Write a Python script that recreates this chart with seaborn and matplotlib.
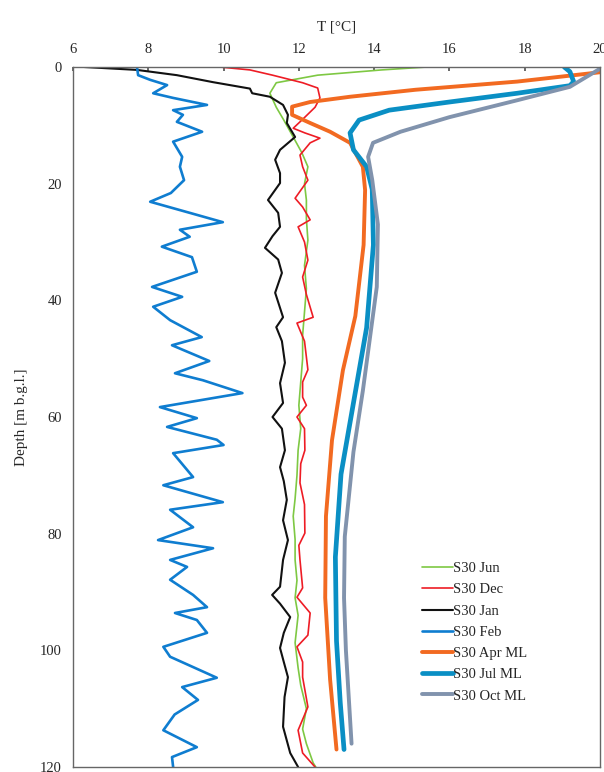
import pandas as pd
import matplotlib.pyplot as plt
import seaborn as sns

# depth [m b.g.l.] and temperature [°C]
jun_depth = [0, 0.5, 1.4, 2.7, 4.5, 6.9, 9.1, 12, 14.7, 17.1, 20, 22.8, 26, 29.7, 34, 38, 42, 46, 50,
             54, 58, 62, 65.7, 70, 74, 77, 81, 84.5, 88, 91, 94, 98.7, 103, 106, 110, 113.5, 116, 119.3, 120]
jun_temp = [15.4, 14.2, 12.5, 11.4, 11.23, 11.4, 11.6, 11.85, 12.08, 12.24, 12.15, 12.2, 12.2, 12.24, 12.15,
            12.2, 12.15, 12.1, 12.1, 12.05, 12.0, 12.05, 11.98, 11.95, 11.9, 11.85, 11.9, 11.9, 11.95, 11.9,
            11.98, 11.9, 11.98, 12.05, 12.2, 12.1, 12.2, 12.38, 12.45]

dec_depth = [0, 0.5, 1.4, 2.7, 3.6, 5.3, 6.9, 9.1, 10.5, 11.3, 12.2, 13, 15.1, 17.1, 19.4, 22.5, 24, 26.2,
             27.4, 30, 33.1, 36, 39, 42.9, 43.9, 47, 51.9, 54, 56.6, 58, 60, 62, 65.7, 68, 71.3, 75, 79.9,
             82, 84.5, 89.3, 90.9, 93.6, 97.4, 99.4, 102, 104.6, 109.7, 113.7, 117.6, 120]
dec_temp = [9.9, 10.7, 11.3, 12.1, 12.5, 12.56, 12.43, 12.08, 11.85, 12.16, 12.56, 12.3, 12.03, 12.1, 12.24,
            11.9, 12.1, 12.3, 11.98, 12.15, 12.24, 12.1, 12.2, 12.38, 11.95, 12.15, 12.24, 12.1, 12.1, 12.2,
            11.95, 12.15, 12.16, 12.05, 12.03, 12.15, 12.16, 12.0, 12.03, 12.1, 11.95, 12.3, 12.24, 11.95,
            12.1, 12.1, 12.24, 11.98, 12.1, 12.43]

jan_depth = [0, 0.5, 1.4, 2.6, 3.7, 4.5, 5.1, 6.5, 8.2, 9.6, 12, 14.2, 15.9, 18.2, 19.9, 22.8, 25, 27.4,
             29, 31, 33, 35.3, 38.7, 42.9, 44.6, 47, 50.7, 54.2, 57.6, 60, 62, 65.7, 68.6, 71, 74.2, 77.7,
             81.1, 84.5, 89.1, 90.5, 92, 94.3, 97, 99.6, 102, 104.6, 108, 113.1, 117.6, 120]
jan_temp = [6.3, 7.7, 8.76, 9.72, 10.7, 10.76, 11.23, 11.58, 11.71, 11.68, 11.9, 11.5, 11.37, 11.5, 11.5,
            11.18, 11.45, 11.5, 11.3, 11.1, 11.45, 11.55, 11.37, 11.58, 11.4, 11.55, 11.63, 11.5, 11.58, 11.3,
            11.55, 11.63, 11.5, 11.6, 11.68, 11.58, 11.71, 11.58, 11.5, 11.29, 11.5, 11.77, 11.6, 11.5, 11.6,
            11.71, 11.62, 11.58, 11.77, 11.98]

feb_depth = [0, 1.4, 2.2, 3.1, 4.5, 5.3, 6.5, 7.4, 8.2, 9.4, 11.1, 12.8, 15.4, 17.1, 19.4, 21.6, 23.1, 25,
             26.6, 27.9, 29.1, 30.8, 32.6, 35.1, 37.7, 39.4, 41.1, 43.4, 46.3, 47.7, 50.4, 52.5, 53.7, 55.9,
             58.3, 60.2, 61.7, 63.9, 64.8, 66.2, 70.3, 71.7, 74.6, 75.9, 78.9, 81.1, 82.5, 84.5, 85.7, 87.9,
             90.5, 92.6, 93.6, 94.8, 97, 99.4, 101.1, 104.7, 106.3, 108.5, 111, 113.7, 116.6, 118.3, 120]
feb_temp = [7.7, 7.73, 8.05, 8.5, 8.13, 8.66, 9.56, 8.66, 8.92, 8.76, 9.43, 8.66, 8.9, 8.84, 8.95, 8.6, 8.05,
            9.1, 9.98, 8.84, 9.1, 8.36, 9.16, 9.29, 8.1, 8.9, 8.13, 8.58, 9.42, 8.63, 9.62, 8.71, 9.45, 10.5,
            8.31, 9.29, 8.5, 9.82, 10.0, 8.66, 9.19, 8.4, 9.98, 8.58, 9.19, 8.26, 9.72, 8.58, 9.03, 8.58,
            9.19, 9.56, 8.71, 9.29, 9.56, 8.4, 8.58, 9.82, 8.9, 9.32, 8.7, 8.4, 9.29, 8.63, 8.66]

apr_depth = [0.9, 2.5, 3.9, 5.1, 6.0, 6.8, 8.2, 9.6, 11.1, 13, 17.1, 21.1, 30.5, 42.7, 52, 64, 77, 91, 105, 117]
apr_temp = [20.0, 17.8, 15.1, 13.36, 12.3, 11.82, 11.82, 12.3, 12.83, 13.36, 13.7, 13.76, 13.72, 13.5,
            13.17, 12.88, 12.72, 12.7, 12.83, 13.0]

jul_depth = [0, 0.8, 2.5, 3.2, 4.5, 6.0, 7.4, 9.1, 11.3, 14.2, 17.1, 21, 30.5, 44.7, 57.6, 69.8, 84, 98.4, 109, 117]
jul_temp = [19.05, 19.2, 19.3, 19.2, 17.8, 16.0, 14.4, 13.6, 13.36, 13.45, 13.8, 13.95, 13.98, 13.8, 13.45,
            13.12, 12.97, 13.0, 13.1, 13.2]

oct_depth = [0.3, 3.4, 5.7, 8.6, 11.1, 13, 15.4, 19.4, 27, 37.7, 55.5, 66, 80.5, 91, 100, 116]
oct_temp = [20.0, 19.2, 17.8, 16.0, 14.7, 13.97, 13.84, 13.95, 14.1, 14.07, 13.7, 13.45, 13.22, 13.2, 13.25, 13.4]

labels = ["S30 Jun", "S30 Dec", "S30 Jan", "S30 Feb", "S30 Apr ML", "S30 Jul ML", "S30 Oct ML"]
depths = [jun_depth, dec_depth, jan_depth, feb_depth, apr_depth, jul_depth, oct_depth]
temps = [jun_temp, dec_temp, jan_temp, feb_temp, apr_temp, jul_temp, oct_temp]
colors = ["#7ec843", "#ee1c25", "#111111", "#0f7dd0", "#f26a21", "#0a8fc4", "#8193ad"]
widths = [1.2, 1.2, 1.5, 1.9, 2.8, 3.4, 2.8]

sns.set_theme(style="white")
plt.rcParams['font.family'] = ['Liberation Serif', 'DejaVu Serif']

fig = plt.figure(figsize=(6.04, 7.72), dpi=100)
ax = fig.add_axes([73/604, 1 - 767/772, (600 - 73)/604, (767 - 67)/772])

for lab, d, t, c, w in zip(labels, depths, temps, colors, widths):
    df = pd.DataFrame({'T': t, 'depth': d})
    sns.lineplot(data=df, x='T', y='depth', sort=False, estimator=None,
                 color=c, linewidth=w, label=lab, ax=ax,
                 solid_joinstyle='round', solid_capstyle='round')

ax.set_xlim(6, 20)
ax.set_ylim(120, 0)
ax.set_xticks(range(6, 21, 2))
ax.set_yticks(range(0, 121, 20))
ax.xaxis.tick_top()
ax.xaxis.set_label_position('top')
ax.set_xlabel("T [°C]", fontsize=11, labelpad=9)
ax.set_ylabel("Depth [m b.g.l.]", fontsize=11, labelpad=9)
ax.tick_params(axis='both', direction='in', length=3, labelsize=10.5, color='#555555', pad=8)

for s in ax.spines.values():
    s.set_color('#666666')
    s.set_linewidth(1.0)

ax.legend(loc='upper left', bbox_to_anchor=(422/604, 1 - 562/772), bbox_transform=fig.transFigure,
          frameon=False, fontsize=10.5, handlelength=2.1, handletextpad=0.05,
          labelspacing=0.55, borderpad=0, borderaxespad=0)

fig.savefig("out.png", dpi=100)
